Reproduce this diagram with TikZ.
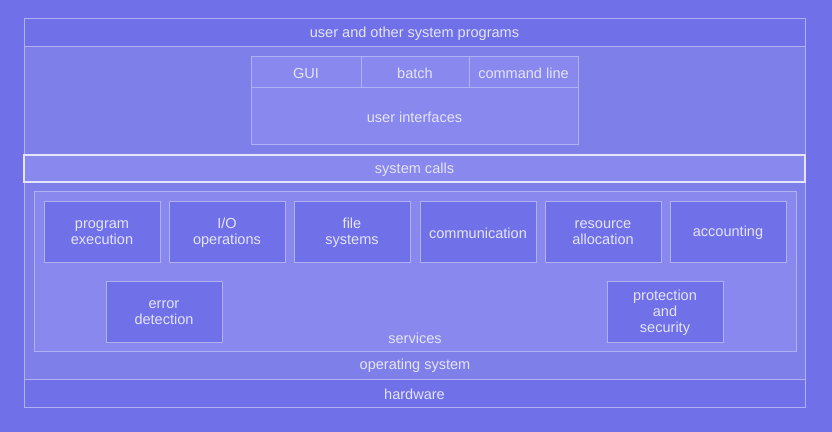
\documentclass[tikz,border=0pt]{standalone}
\usepackage{fontspec}
\setmainfont{Liberation Sans}
\definecolor{bgblue}{HTML}{7070E8}
\definecolor{osblue}{HTML}{7F7FE9}
\definecolor{inblue}{HTML}{8888EE}
\definecolor{edge}{HTML}{B0B0F4}
\definecolor{txt}{HTML}{E4E4FB}

\begin{document}
\begin{tikzpicture}[x=0.75pt, y=-0.75pt,
		every node/.style={font=\fontsize{10.9}{12}\selectfont, text=txt, align=center, yshift=-1.2pt},
		band/.style={draw=edge, line width=0.75pt}]
		\fill[bgblue] (0,0) rectangle (832,432);
		\useasboundingbox (0,0) rectangle (832,432);
		\draw[band, fill=osblue] (24,46) rectangle (805,379);
		\node (os) at (415,364) {operating system};
		\draw[band] (24,18) rectangle (805,46) node[midway] (user) {user and other system programs};
		\draw[band] (24,379) rectangle (805,407) node[midway] (hw) {hardware};
		% user interfaces
		\draw[band, fill=inblue] (251,56) rectangle (578,144);
		\draw[band] (251,56) rectangle (361,87) node[midway] (gui) {GUI};
		\draw[band] (361,56) rectangle (469,87) node[midway] (batch) {batch};
		\draw[band] (469,56) rectangle (578,87) node[midway] (cmd) {command line};
		\draw[band] (251,87) rectangle (578,144) node[midway] (ui) {user interfaces};
		% system calls
		\draw[draw=txt, line width=1.5pt, fill=inblue] (24,155) rectangle (805,182) node[midway] (syscall) {system calls};
		% services
		\draw[band, fill=inblue] (34,191) rectangle (796,351);
		\node (services) at (415,337) {services};
		\foreach \x/\nm/\txt in {44/exec/{program\\execution}, 169/io/{I/O\\operations},
				294/files/{file\\systems}, 420/comm/{communication},
				545/res/{resource\\allocation}, 670/acct/{accounting}}
			\draw[band, fill=bgblue] (\x,201) rectangle ++(116,61) node[midway] (\nm) {\txt};
		\draw[band, fill=bgblue] (106,281) rectangle (222,342) node[midway] (err) {error\\detection};
		\draw[band, fill=bgblue] (607,281) rectangle (723,342) node[midway] (prot) {protection\\and\\security};
	\end{tikzpicture}
\end{document}
